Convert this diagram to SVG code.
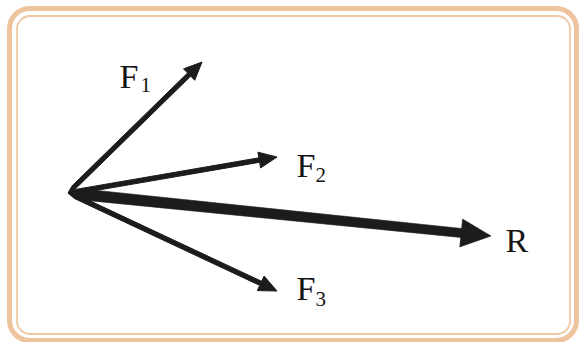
<svg xmlns="http://www.w3.org/2000/svg" width="579" height="342" viewBox="0 0 579 342">
  <style>
    .lbl { font-family: "Liberation Serif", "Times New Roman", serif; fill: #151515; }
    .main { font-size: 34px; }
    .sub { font-size: 21px; }
    .arrow { fill: #1c1c1c; stroke: #1c1c1c; stroke-width: 1; stroke-linejoin: miter; }
    .arrow-r { fill: #1c1c1c; stroke: #1c1c1c; stroke-width: 0.6; stroke-linejoin: miter; }
  </style>
  <rect x="0" y="0" width="579" height="342" fill="#ffffff"/>
  <g id="frame">
    <rect x="9.5" y="8.5" width="567" height="332" rx="20" ry="20" fill="#ffffff" stroke="#EEC49E" stroke-width="5"/>
    <rect x="17" y="16" width="553" height="318" rx="13" ry="13" fill="#ffffff" stroke="#EFC7A3" stroke-width="1.8"/>
  </g>
  <g id="connectors">
    <polygon class="arrow" points="68,193 75.29,189.02 190.70,76.19 194.72,80.30 202,62 183.54,68.86 187.56,72.97 72.15,185.80"/>
    <polygon class="arrow" points="68,193 76.26,193.86 259.64,162.27 260.62,167.93 277,157 257.90,152.17 258.88,157.83 75.50,189.42"/>
    <polygon class="arrow" points="68,193 74.29,198.44 259.75,285.40 257.30,290.60 277,291 264.10,276.12 261.66,281.32 76.20,194.36"/>
    <polygon class="arrow-r" points="68,193 81.37,199.89 460.70,237.45 459.74,246.90 491,236 462.57,219.04 461.61,228.49 82.49,188.95"/>
  </g>
  <g id="label-F1">
    <text class="lbl main" x="119.5" y="87.5">F</text>
    <text class="lbl sub" x="140.5" y="92">1</text>
  </g>
  <g id="label-F2">
    <text class="lbl main" x="296.5" y="177">F</text>
    <text class="lbl sub" x="315.5" y="182">2</text>
  </g>
  <g id="label-F3">
    <text class="lbl main" x="296.5" y="300">F</text>
    <text class="lbl sub" x="315.5" y="306">3</text>
  </g>
  <g id="label-R">
    <text class="lbl main" x="505.5" y="252">R</text>
  </g>
</svg>
